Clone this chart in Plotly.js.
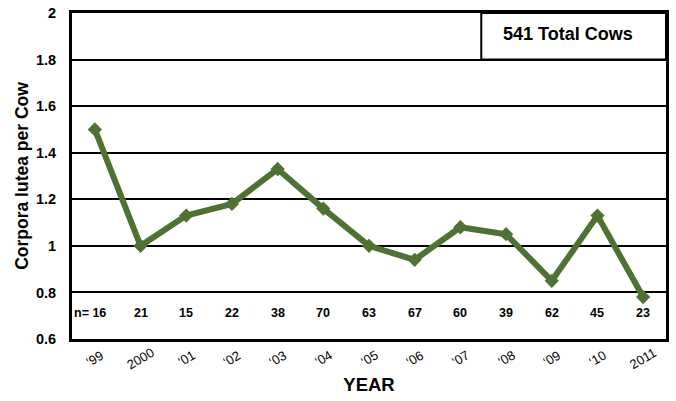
<!DOCTYPE html>
<html>
<head>
<meta charset="utf-8">
<script src="https://cdn.plot.ly/plotly-3.0.1.min.js"></script>
<style>html,body{margin:0;padding:0;background:#fff;}#chart{width:676px;height:401px;}</style>
</head>
<body>
<div id="chart"></div>
<script>
var years = ["‘99", "2000", "‘01", "‘02", "‘03", "‘04", "‘05", "‘06", "‘07", "‘08", "‘09", "‘10", "2011"];
var corporaLutea = [1.50, 1.00, 1.13, 1.18, 1.33, 1.16, 1.00, 0.94, 1.08, 1.05, 0.85, 1.13, 0.78];
var nCows = [16, 21, 15, 22, 38, 70, 63, 67, 60, 39, 62, 45, 23];
var totalLabel = "541 Total Cows";
var nLabelLevel = 0.71;

var font = "Liberation Sans, Arial, sans-serif";
var green = "#4E7134";

var trace = {
  type: "scatter",
  mode: "lines+markers",
  x: years,
  y: corporaLutea,
  line: {color: green, width: 6},
  marker: {symbol: "diamond", size: 11, color: green},
  hoverinfo: "skip"
};

var annotations = [];
years.forEach(function (yr, i) {
  annotations.push({
    x: i, y: nLabelLevel, xref: "x", yref: "y",
    text: (i === 0 ? "n= " : "") + nCows[i],
    showarrow: false, xanchor: "center",
    xshift: i === 0 ? -5 : 0,
    font: {family: font, size: 12.5, color: "#000", weight: "bold"}
  });
  annotations.push({
    x: i, y: -0.06, xref: "x", yref: "paper",
    text: yr, textangle: -30, showarrow: false,
    xanchor: "center", yanchor: "middle",
    font: {family: font, size: 13, color: "#000"}
  });
});
annotations.push({
  x: 0.835, y: 2.0, xref: "paper", yref: "y",
  xanchor: "center", yanchor: "top", yshift: -9,
  text: totalLabel, showarrow: false,
  font: {family: font, size: 18, color: "#000", weight: "bold"}
});

var layout = {
  width: 676, height: 401,
  margin: {l: 72, r: 10, t: 13, b: 62},
  paper_bgcolor: "#fff", plot_bgcolor: "#fff",
  showlegend: false,
  font: {family: font, color: "#000"},
  xaxis: {
    type: "category",
    showticklabels: false,
    showgrid: false,
    zeroline: false,
    showline: true, mirror: true, linecolor: "#000", linewidth: 3,
    ticks: "",
    range: [-0.5, years.length - 0.5],
    title: {text: "YEAR", font: {family: font, size: 18.5, color: "#000", weight: "bold"}, standoff: 38}
  },
  yaxis: {
    range: [0.6, 2.0],
    dtick: 0.2,
    tick0: 0.6,
    showgrid: true, gridcolor: "#000", gridwidth: 2,
    zeroline: false,
    showline: true, mirror: true, linecolor: "#000", linewidth: 3,
    ticks: "",
    ticklabelstandoff: 10,
    tickfont: {family: font, size: 14.5, color: "#000", weight: "bold"},
    title: {text: "Corpora lutea per Cow", font: {family: font, size: 17.5, color: "#000", weight: "bold"}, standoff: 3}
  },
  shapes: [{
    type: "rect", xref: "paper", yref: "y",
    x0: 0.689, x1: 1.0, y0: 1.8, y1: 2.0,
    line: {color: "#000", width: 2}, fillcolor: "rgba(0,0,0,0)"
  }],
  annotations: annotations
};

Plotly.newPlot("chart", [trace], layout, {staticPlot: true, displayModeBar: false});
</script>
</body>
</html>
